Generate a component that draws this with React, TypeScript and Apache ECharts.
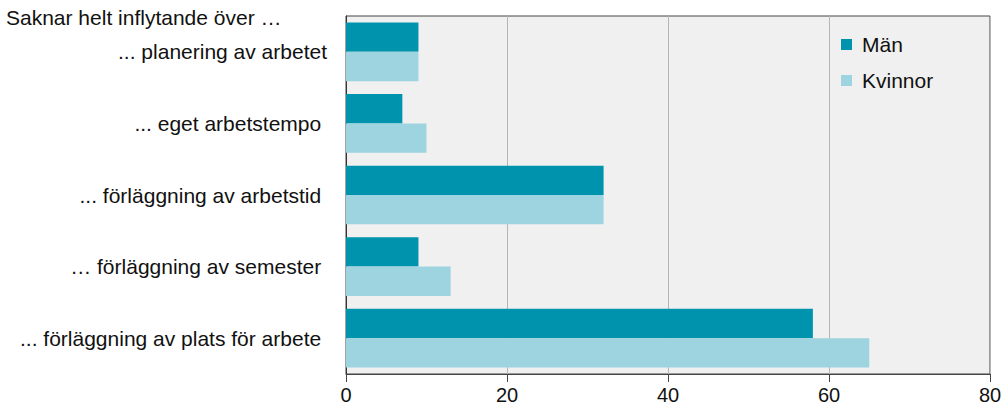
import React, { useEffect, useRef } from "react";
import * as echarts from "echarts";

const categories = [
  "... planering av arbetet",
  "... eget arbetstempo ",
  "... förläggning av arbetstid ",
  "… förläggning av semester ",
  "... förläggning av plats för arbete ",
];
const seriesNames = ["Män", "Kvinnor"];
const manValues = [9, 7, 32, 9, 58];
const kvinnorValues = [9, 10, 32, 13, 65];
const titleText = "Saknar helt inflytande över …";

const FONT = "Arial, 'Liberation Sans', sans-serif";

export default function App() {
  const ref = useRef<HTMLDivElement>(null);
  useEffect(() => {
    document.body.style.margin = "0";
    const chart = echarts.init(ref.current!, null, { renderer: "svg" });
    chart.setOption({
      animation: false,
      textStyle: { fontFamily: FONT },
      title: {
        text: titleText,
        left: 6,
        top: 7,
        padding: 0,
        textStyle: { fontSize: 21, fontWeight: "normal", color: "#111", fontFamily: FONT },
      },
      legend: {
        orient: "vertical",
        left: 841,
        top: 34,
        itemWidth: 11,
        itemHeight: 11,
        itemGap: 15,
        padding: 0,
        icon: "rect",
        data: seriesNames,
        textStyle: { fontSize: 21, color: "#111", fontFamily: FONT, padding: [0, 0, 0, 5] },
      },
      grid: {
        left: 346,
        right: 16,
        top: 16,
        bottom: 38,
        show: true,
        backgroundColor: "#f0f0f0",
        borderColor: "#444",
        borderWidth: 1,
      },
      xAxis: {
        type: "value",
        min: 0,
        max: 80,
        interval: 20,
        axisLine: { show: true, lineStyle: { color: "#444" } },
        axisTick: { show: true, length: 8, lineStyle: { color: "#444" } },
        axisLabel: { fontSize: 20, color: "#111", margin: 11, fontFamily: FONT },
        splitLine: { show: true, lineStyle: { color: "#b5b5b5", width: 1 } },
      },
      yAxis: {
        type: "category",
        data: categories,
        inverse: true,
        axisLine: { show: true, lineStyle: { color: "#333" } },
        axisTick: { show: false },
        axisLabel: { fontSize: 21, color: "#111", margin: 19, fontFamily: FONT },
        splitLine: { show: false },
      },
      series: [
        {
          name: seriesNames[0],
          type: "bar",
          data: manValues,
          itemStyle: { color: "#0093ad" },
          barGap: "0%",
          barCategoryGap: "18%",
        },
        {
          name: seriesNames[1],
          type: "bar",
          data: kvinnorValues,
          itemStyle: { color: "#9dd4df" },
          barGap: "0%",
          barCategoryGap: "18%",
        },
      ],
    });
    return () => chart.dispose();
  }, []);
  return <div ref={ref} style={{ width: 1006, height: 412 }} />;
}
